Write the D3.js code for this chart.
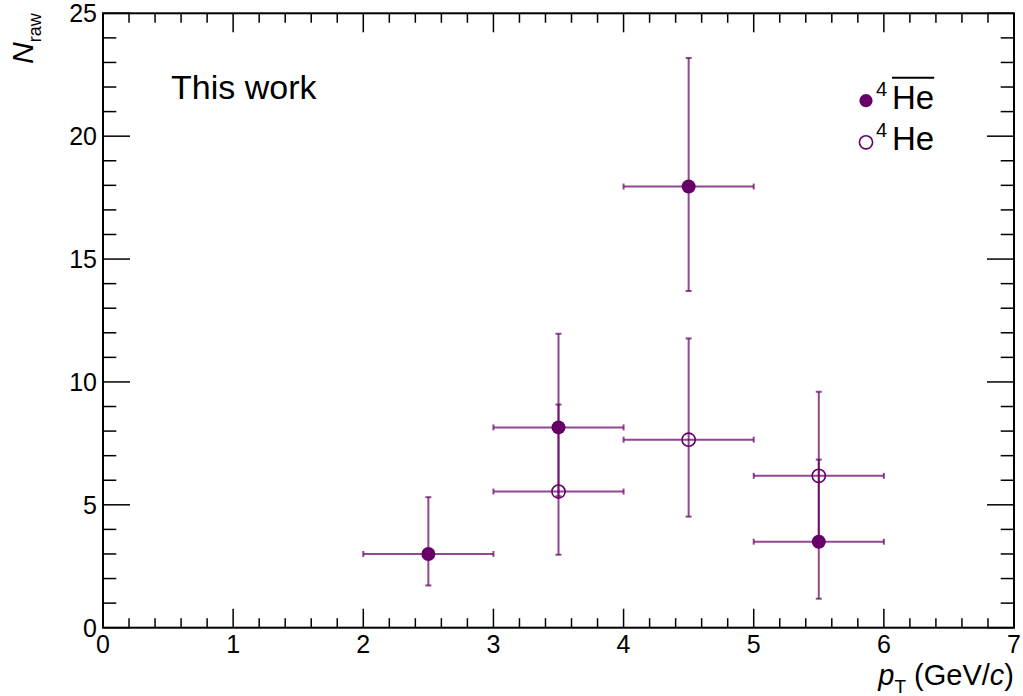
<!DOCTYPE html>
<html>
<head>
<meta charset="utf-8">
<script src="https://cdn.jsdelivr.net/npm/d3@7"></script>
<style>
  html, body { margin: 0; padding: 0; background: #fff; }
  svg { display: block; font-family: "Liberation Sans", Arial, Helvetica, sans-serif; }
</style>
</head>
<body>
<svg id="chart" width="1023" height="696"></svg>
<script>
// Raw yields of anti-helium-4 and helium-4 in pT bins (GeV/c)
const binHalfWidth = 0.5;

const antiPt    = [2.5, 3.5, 4.5, 5.5];
const antiN     = [3.0, 8.15, 17.95, 3.5];
const antiErrHi = [2.31, 3.81, 5.23, 3.34];
const antiErrLo = [1.28, 2.80, 4.25, 2.32];

const hePt      = [3.5, 4.5, 5.5];
const heN       = [5.54, 7.65, 6.18];
const heErrHi   = [3.54, 4.12, 3.42];
const heErrLo   = [2.57, 3.13, 2.60];

const xTicks = [0, 1, 2, 3, 4, 5, 6, 7];
const yTicks = [0, 5, 10, 15, 20, 25];

const color = "#660066";

const svg = d3.select("#chart");
const frame = { left: 103, right: 1014, top: 13.3, bottom: 627.7 };

const x = d3.scaleLinear().domain([0, 7]).range([frame.left, frame.right]);
const y = d3.scaleLinear().domain([0, 25]).range([frame.bottom, frame.top]);

// ---- axes frame with inward ticks on all four sides ----
const axes = svg.append("g").attr("stroke", "#000");

const xMinor = d3.range(0, 7.0001, 0.2).map(v => +v.toFixed(2));
const yMinor = d3.range(0, 25.0001, 1);

function isMajor(v, step) { return Math.abs(v / step - Math.round(v / step)) < 1e-6; }

// bottom & top
xMinor.forEach(v => {
  const len = isMajor(v, 1) ? 19 : 9.5;
  axes.append("line").attr("x1", x(v)).attr("x2", x(v))
    .attr("y1", frame.bottom).attr("y2", frame.bottom - len).attr("stroke-width", 1.5);
  axes.append("line").attr("x1", x(v)).attr("x2", x(v))
    .attr("y1", frame.top).attr("y2", frame.top + len).attr("stroke-width", 1.5);
});
// left & right
yMinor.forEach(v => {
  const len = isMajor(v, 5) ? 27 : 13.3;
  axes.append("line").attr("y1", y(v)).attr("y2", y(v))
    .attr("x1", frame.left).attr("x2", frame.left + len).attr("stroke-width", 1.5);
  axes.append("line").attr("y1", y(v)).attr("y2", y(v))
    .attr("x1", frame.right).attr("x2", frame.right - len).attr("stroke-width", 1.5);
});

axes.append("rect")
  .attr("x", frame.left).attr("y", frame.top)
  .attr("width", frame.right - frame.left).attr("height", frame.bottom - frame.top)
  .attr("fill", "none").attr("stroke-width", 2);

// tick labels
svg.append("g").selectAll("text").data(xTicks).join("text")
  .attr("x", d => x(d)).attr("y", 653)
  .attr("text-anchor", "middle").attr("font-size", 25).attr("fill", "#000")
  .text(d => d);

svg.append("g").selectAll("text").data(yTicks).join("text")
  .attr("x", 97).attr("y", d => y(d)).attr("dy", "0.36em")
  .attr("text-anchor", "end").attr("font-size", 25).attr("fill", "#000")
  .text(d => d);

// axis titles
const yTitle = svg.append("text")
  .attr("transform", `translate(33,${frame.top}) rotate(-90)`)
  .attr("text-anchor", "end").attr("font-size", 30).attr("fill", "#000");
yTitle.append("tspan").attr("font-style", "italic").text("N");
yTitle.append("tspan").attr("font-size", 18).attr("dy", 8).text("raw");

const xTitle = svg.append("text")
  .attr("x", frame.right).attr("y", 685)
  .attr("text-anchor", "end").attr("font-size", 29).attr("fill", "#000");
xTitle.append("tspan").attr("font-style", "italic").text("p");
xTitle.append("tspan").attr("font-size", 19).attr("dy", 8).text("T");
xTitle.append("tspan").attr("dy", -8).text(" (GeV/");
xTitle.append("tspan").attr("font-style", "italic").text("c");
xTitle.append("tspan").text(")");

// ---- error bars ----
function drawErrors(pts, vals, hi, lo) {
  const g = svg.append("g")
    .attr("stroke", color).attr("stroke-width", 2).attr("stroke-opacity", 0.72).attr("fill", "none");
  pts.forEach((p, i) => {
    const cx = x(p), cy = y(vals[i]);
    const xl = x(p - binHalfWidth), xr = x(p + binHalfWidth);
    const yt = y(vals[i] + hi[i]), yb = y(vals[i] - lo[i]);
    const cap = 3;
    g.append("line").attr("x1", xl).attr("x2", xr).attr("y1", cy).attr("y2", cy);
    g.append("line").attr("x1", xl).attr("x2", xl).attr("y1", cy - cap).attr("y2", cy + cap);
    g.append("line").attr("x1", xr).attr("x2", xr).attr("y1", cy - cap).attr("y2", cy + cap);
    g.append("line").attr("x1", cx).attr("x2", cx).attr("y1", yt).attr("y2", yb);
    g.append("line").attr("x1", cx - cap).attr("x2", cx + cap).attr("y1", yt).attr("y2", yt);
    g.append("line").attr("x1", cx - cap).attr("x2", cx + cap).attr("y1", yb).attr("y2", yb);
  });
}
drawErrors(antiPt, antiN, antiErrHi, antiErrLo);
drawErrors(hePt, heN, heErrHi, heErrLo);

// ---- markers ----
svg.append("g").selectAll("circle").data(antiPt).join("circle")
  .attr("cx", d => x(d)).attr("cy", (d, i) => y(antiN[i])).attr("r", 7)
  .attr("fill", color);

svg.append("g").selectAll("circle").data(hePt).join("circle")
  .attr("cx", d => x(d)).attr("cy", (d, i) => y(heN[i])).attr("r", 6.6)
  .attr("fill", "none").attr("stroke", color).attr("stroke-width", 1.6);

// ---- label ----
svg.append("text").attr("x", 171).attr("y", 99)
  .attr("font-size", 34).attr("fill", "#000").text("This work");

// ---- legend ----
const legend = svg.append("g");
function legendEntry(cy, filled, bar) {
  legend.append("circle").attr("cx", 866).attr("cy", cy).attr("r", 6.6)
    .attr("fill", filled ? color : "none")
    .attr("stroke", filled ? "none" : color).attr("stroke-width", 1.6);
  legend.append("text").attr("x", 876).attr("y", cy - 5)
    .attr("font-size", 20).attr("fill", "#000").text("4");
  const he = legend.append("text").attr("x", 892).attr("y", cy + 8)
    .attr("font-size", 33).attr("fill", "#000").text("He");
  if (bar) {
    const w = he.node().getComputedTextLength();
    legend.append("line").attr("x1", 892).attr("x2", 892 + w)
      .attr("y1", cy - 23).attr("y2", cy - 23)
      .attr("stroke", "#000").attr("stroke-width", 2);
  }
}
legendEntry(100.7, true, true);
legendEntry(142.3, false, false);
</script>
</body>
</html>
